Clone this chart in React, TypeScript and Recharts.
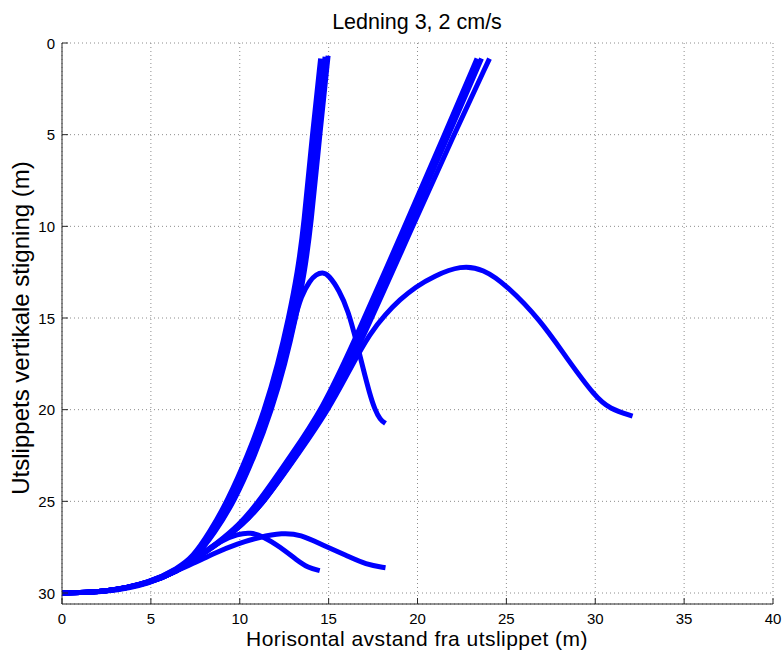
import React from 'react';
import { LineChart, Line, XAxis, YAxis, CartesianGrid } from 'recharts';

// Plume trajectories: [horizontal distance (m), vertical rise/depth (m)]
const steepA1: [number, number][] = [[0,30],[2.5,29.95],[5,29.42],[6.5,28.7],[7.4,28.1],[8.45,26.7],[9.5,25.0],[10.65,22.5],[11.6,20.0],[12.35,17.5],[12.95,15.0],[13.45,12.5],[13.8,10.0],[14.3,5.0],[14.8,0.75]];
const steepA2: [number, number][] = [[0,30],[2.5,29.95],[5,29.42],[6.5,28.65],[7.35,28.05],[8.3,26.7],[9.3,25.0],[10.45,22.5],[11.4,20.0],[12.15,17.5],[12.75,15.0],[13.25,12.5],[13.6,10.0],[14.08,5.0],[14.55,0.85]];
const steepA3: [number, number][] = [[0,30],[2.5,29.95],[5,29.42],[6.5,28.75],[7.45,28.15],[8.6,26.7],[9.7,25.0],[10.85,22.5],[11.8,20.0],[12.55,17.5],[13.15,15.0],[13.65,12.5],[14.0,10.0],[14.5,5.0],[14.97,0.7]];
const curveC: [number, number][] = [[0,30],[2.5,29.95],[5,29.42],[6.5,28.72],[7.45,28.12],[8.55,26.7],[9.65,25.0],[10.8,22.5],[11.75,20.0],[12.5,17.5],[13.05,15.2],[13.45,13.8],[13.95,12.95],[14.3,12.62],[14.66,12.5],[15.0,12.65],[15.6,13.5],[16.1,14.6],[16.57,16.3],[16.95,17.8],[17.3,19.1],[17.6,20.0],[17.9,20.55],[18.2,20.75]];
const slopeB1: [number, number][] = [[0,30],[2.5,29.95],[5,29.45],[6.5,28.8],[7.5,28.15],[8.7,27.3],[9.95,26.3],[11.1,25.0],[12.95,22.4],[14.62,20.0],[16.3,16.6],[19.28,10.0],[21.52,5.0],[23.35,0.85]];
const slopeB2: [number, number][] = [[0,30],[2.5,29.95],[5,29.45],[6.5,28.8],[7.5,28.15],[8.75,27.3],[10.05,26.3],[11.25,25.0],[13.1,22.4],[14.8,20.0],[16.5,16.6],[19.5,10.0],[21.75,5.0],[23.6,0.85]];
const slopeB3: [number, number][] = [[0,30],[2.5,29.95],[5,29.45],[6.5,28.8],[7.5,28.15],[8.8,27.3],[10.15,26.3],[11.4,25.0],[13.25,22.4],[14.95,20.0],[16.7,16.6],[19.72,10.0],[22.05,5.0],[24.05,0.85]];
const curveD: [number, number][] = [[0,30],[2.5,29.95],[5,29.45],[6.5,28.8],[7.5,28.15],[8.8,27.3],[10.15,26.3],[11.4,25.0],[13.3,22.4],[15.0,20.0],[16.3,17.6],[17.35,15.8],[18.2,14.8],[19.0,14.0],[19.9,13.3],[20.9,12.72],[22.45,12.12],[23.7,12.32],[25.0,13.2],[26.9,15.1],[28.4,17.2],[30.0,19.3],[30.8,19.95],[32.1,20.35]];
const lowE: [number, number][] = [[0,30],[2.5,29.95],[5,29.45],[6.5,28.78],[7.5,28.1],[8.9,27.15],[9.9,26.78],[10.6,26.7],[11.3,26.9],[12.3,27.5],[13.2,28.2],[13.85,28.62],[14.5,28.78]];
const lowF: [number, number][] = [[0,30],[2.5,29.97],[5,29.5],[6.6,28.7],[7.5,28.35],[8.5,27.85],[9.9,27.3],[11.1,26.95],[12.4,26.72],[13.4,26.8],[14.7,27.4],[16.0,27.95],[17.1,28.45],[18.2,28.62]];

const trajectories = [steepA1, steepA2, steepA3, curveC, slopeB1, slopeB2, slopeB3, curveD, lowE, lowF];

const xTicks = [0, 5, 10, 15, 20, 25, 30, 35, 40];
const yTicks = [0, 5, 10, 15, 20, 25, 30];

const title = 'Ledning 3, 2 cm/s';
const xLabel = 'Horisontal avstand fra utslippet (m)';
const yLabel = 'Utslippets vertikale stigning (m)';

const FONT = '"Liberation Sans", Arial, Helvetica, sans-serif';
const AXIS = '#262626';
const BLUE = '#0000ff';
const TICK_LEN = 6;

const BottomTick = (p: any) => (
  <g>
    <line x1={p.x} y1={p.y} x2={p.x} y2={p.y - TICK_LEN} stroke={AXIS} strokeWidth={1} />
    <text x={p.x} y={p.y + 20} textAnchor="middle" fontSize={15} fontFamily={FONT} fill="#000">
      {p.payload.value}
    </text>
  </g>
);
const TopTick = (p: any) => (
  <line x1={p.x} y1={p.y} x2={p.x} y2={p.y + TICK_LEN} stroke={AXIS} strokeWidth={1} />
);
const LeftTick = (p: any) => (
  <g>
    <line x1={p.x} y1={p.y} x2={p.x + TICK_LEN} y2={p.y} stroke={AXIS} strokeWidth={1} />
    <text x={p.x - 7} y={p.y + 5.5} textAnchor="end" fontSize={15} fontFamily={FONT} fill="#000">
      {p.payload.value}
    </text>
  </g>
);
const RightTick = (p: any) => (
  <line x1={p.x} y1={p.y} x2={p.x - TICK_LEN} y2={p.y} stroke={AXIS} strokeWidth={1} />
);

export default function App() {
  const series = trajectories.map((t) => t.map(([x, y]) => ({ x, y })));
  const W = 783;
  const H = 652;
  return (
    <div style={{ position: 'absolute', left: 0, top: 0, width: W, height: H }}>
      <LineChart width={W} height={H} margin={{ top: 43, right: 10, left: 0, bottom: 0 }}>
        <CartesianGrid stroke="#8c8c8c" strokeDasharray="1 3" strokeWidth={1} />
        <XAxis
          xAxisId={0}
          type="number"
          dataKey="x"
          domain={[0, 40]}
          ticks={xTicks}
          height={48}
          tickSize={0}
          tickMargin={0}
          tickLine={false}
          stroke={AXIS}
          tick={<BottomTick />}
          interval={0}
          allowDataOverflow
        />
        <XAxis
          xAxisId="top"
          orientation="top"
          type="number"
          dataKey="x"
          domain={[0, 40]}
          ticks={xTicks}
          height={0}
          tickSize={0}
          tickMargin={0}
          tickLine={false}
          stroke={AXIS}
          tick={<TopTick />}
          interval={0}
          allowDataOverflow
        />
        <YAxis
          yAxisId={0}
          type="number"
          dataKey="y"
          domain={[0, 30.6]}
          ticks={yTicks}
          reversed
          width={62}
          tickSize={0}
          tickMargin={0}
          tickLine={false}
          stroke={AXIS}
          tick={<LeftTick />}
          interval={0}
          allowDataOverflow
        />
        <YAxis
          yAxisId="right"
          orientation="right"
          type="number"
          dataKey="y"
          domain={[0, 30.6]}
          ticks={yTicks}
          reversed
          width={0}
          tickSize={0}
          tickMargin={0}
          tickLine={false}
          stroke={AXIS}
          tick={<RightTick />}
          interval={0}
          allowDataOverflow
        />
        {series.map((d, i) => (
          <Line
            key={i}
            data={d}
            dataKey="y"
            xAxisId={0}
            yAxisId={0}
            type="basis"
            stroke={BLUE}
            strokeWidth={5}
            dot={false}
            activeDot={false}
            isAnimationActive={false}
          />
        ))}
        <text x={417} y={29} textAnchor="middle" fontSize={21.5} fontFamily={FONT} fill="#000">
          {title}
        </text>
        <text
          x={417}
          y={646}
          textAnchor="middle"
          fontSize={21}
          letterSpacing={0.45}
          fontFamily={FONT}
          fill="#000"
        >
          {xLabel}
        </text>
        <text
          x={29}
          y={328}
          textAnchor="middle"
          fontSize={24}
          fontFamily={FONT}
          fill="#000"
          transform="rotate(-90 29 328)"
        >
          {yLabel}
        </text>
      </LineChart>
    </div>
  );
}
